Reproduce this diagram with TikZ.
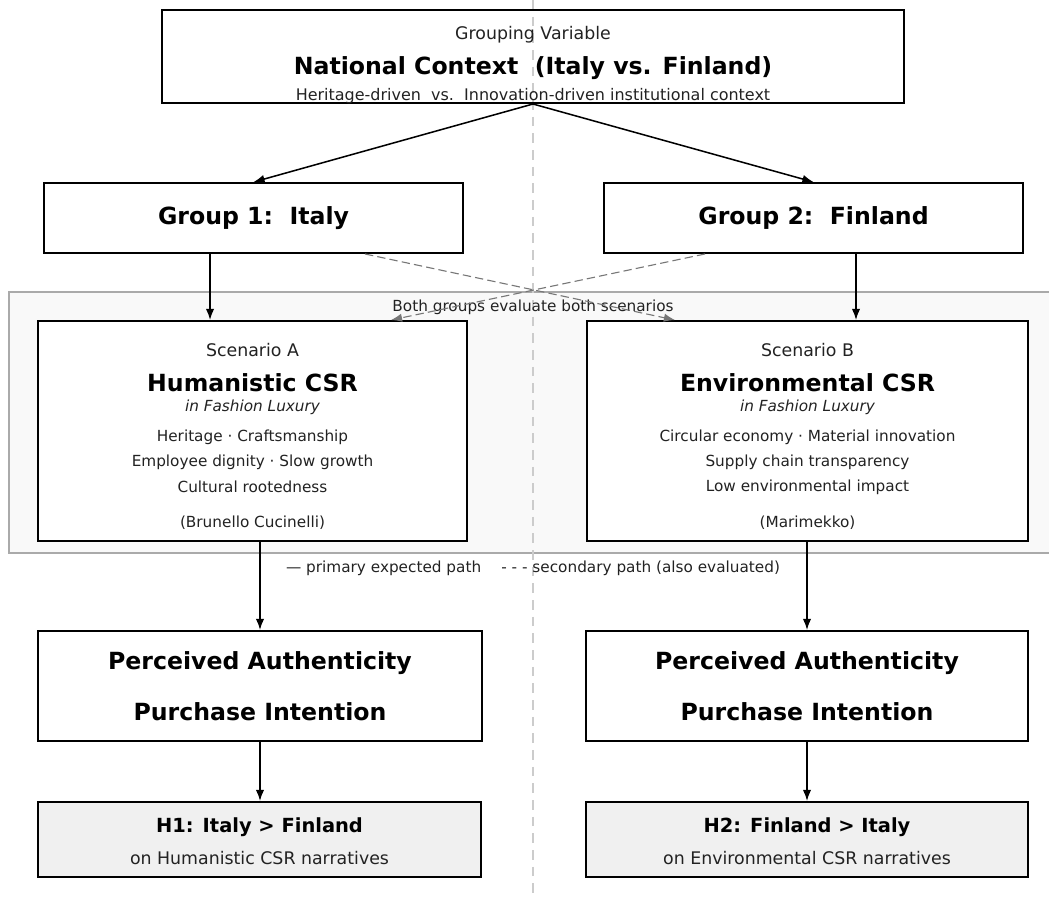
\documentclass[tikz,border=0pt]{standalone}
\usepackage{fontspec}
\setmainfont{DejaVu Sans}
\usepackage{tikz}
\usetikzlibrary{arrows.meta}
\definecolor{panelfill}{HTML}{F9F9F9}
\definecolor{panelline}{HTML}{AAAAAA}
\definecolor{hypfill}{HTML}{F0F0F0}
\definecolor{midline}{HTML}{CCCCCC}
\definecolor{dashgray}{HTML}{777777}
\definecolor{txtgray}{HTML}{222222}
\newcommand{\fsz}[1]{\fontsize{#1}{#1}\selectfont}

\begin{document}
\begin{tikzpicture}[x=0.72pt, y=-0.72pt,
            box/.style={draw, line width=1.4pt, inner sep=0pt},
            txt/.style={inner sep=0pt, text=txtgray, align=center},
            ttl/.style={inner sep=0pt, text=black, font=\fsz{17}\bfseries},
            arr/.style={line width=1.1pt, -{Latex[length=8pt, width=6pt]}},
            darr/.style={line width=0.8pt, dashgray, dash pattern=on 6pt off 3pt, -{Latex[length=8pt, width=6pt]}}]
            \useasboundingbox (0,0) rectangle (1049,898);

            % shared panel and centre guide
            \draw[panelline, fill=panelfill, line width=0.8pt] (9,292) rectangle (1055,553);
            \draw[midline, line width=0.8pt, dash pattern=on 7pt off 5pt] (533,0) -- (533,898);

            % boxes
            \node[box, minimum width=534.2pt, minimum height=67pt] at (533,56.5) (ctx) {};
            \node[box, minimum width=301.7pt, minimum height=50.4pt, font=\fsz{17}\bfseries] at (253.5,218) (grp1) {Group 1:\ \ Italy};
            \node[box, minimum width=301.7pt, minimum height=50.4pt, font=\fsz{17}\bfseries] at (813.5,218) (grp2) {Group 2:\ \ Finland};
            \node[box, fill=white, minimum width=308.9pt, minimum height=158.4pt] at (252.5,431) (scnA) {};
            \node[box, fill=white, minimum width=317.5pt, minimum height=158.4pt] at (807.5,431) (scnB) {};
            \node[box, fill=white, minimum width=319.7pt, minimum height=79.2pt] at (260,686) (perA) {};
            \node[box, fill=white, minimum width=318.2pt, minimum height=79.2pt] at (807,686) (perB) {};
            \node[box, fill=hypfill, minimum width=319pt, minimum height=54pt] at (259.5,839.5) (hypA) {};
            \node[box, fill=hypfill, minimum width=318.2pt, minimum height=54pt] at (807,839.5) (hypB) {};

            % texts
            \node[txt, font=\fsz{12.5}] at (533,35) (ctxsub) {Grouping Variable};
            \node[ttl] at (533,68) (ctxttl) {National Context\ \ (Italy vs. Finland)};
            \node[txt, font=\fsz{11.5}] at (533,96) (ctxnote) {Heritage-driven\ \ vs.\ \ Innovation-driven institutional context};

            \node[txt, font=\fsz{12.5}] at (252.5,350) (scnAsub) {Scenario A};
            \node[ttl] at (252.5,383) (scnAttl) {Humanistic CSR};
            \node[txt, font=\fsz{11}\itshape] at (252.5,407) (scnAin) {in Fashion Luxury};
            \node[txt, font=\fsz{11}] at (252.5,437) (scnA1) {Heritage · Craftsmanship};
            \node[txt, font=\fsz{11}] at (252.5,462) (scnA2) {Employee dignity · Slow growth};
            \node[txt, font=\fsz{11}] at (252.5,487) (scnA3) {Cultural rootedness};
            \node[txt, font=\fsz{11}] at (252.5,523) (scnAex) {(Brunello Cucinelli)};

            \node[txt, font=\fsz{12.5}] at (807.5,350) (scnBsub) {Scenario B};
            \node[ttl] at (807.5,383) (scnBttl) {Environmental CSR};
            \node[txt, font=\fsz{11}\itshape] at (807.5,407) (scnBin) {in Fashion Luxury};
            \node[txt, font=\fsz{11}] at (807.5,437) (scnB1) {Circular economy · Material innovation};
            \node[txt, font=\fsz{11}] at (807.5,462) (scnB2) {Supply chain transparency};
            \node[txt, font=\fsz{11}] at (807.5,487) (scnB3) {Low environmental impact};
            \node[txt, font=\fsz{11}] at (807.5,523) (scnBex) {(Marimekko)};

            \node[ttl] at (260,663) (perA1) {Perceived Authenticity};
            \node[ttl] at (260,712) (perA2) {Purchase Intention};
            \node[ttl] at (807,663) (perB1) {Perceived Authenticity};
            \node[ttl] at (807,712) (perB2) {Purchase Intention};

            \node[txt, text=black, font=\fsz{14}\bfseries] at (259.5,827) (hypAttl) {H1: Italy > Finland};
            \node[txt, font=\fsz{12.5}] at (259.5,858) (hypAsub) {on Humanistic CSR narratives};
            \node[txt, text=black, font=\fsz{14}\bfseries] at (807,827) (hypBttl) {H2: Finland > Italy};
            \node[txt, font=\fsz{12.5}] at (807,858) (hypBsub) {on Environmental CSR narratives};

            \node[txt, font=\fsz{11}] at (533,307) (both) {Both groups evaluate both scenarios};
            \node[txt, font=\fsz{11}] at (533,568) (legend) {— primary expected path\quad\ - - - secondary path (also evaluated)};

            % connectors
            \draw [arr] (ctx.south) -- (grp1.north);
            \draw [arr] (ctx.south) -- (grp2.north);
            \draw [arr] ([xshift=-31.3pt]grp1.south) -- ([xshift=-31.3pt]grp1.south |- scnA.north);
            \draw [arr] ([xshift=30.6pt]grp2.south) -- ([xshift=30.6pt]grp2.south |- scnB.north);
            \draw [darr] ([xshift=80.3pt]grp1.south) -- ([xshift=-95.4pt]scnB.north);
            \draw [darr] ([xshift=-78.1pt]grp2.south) -- ([xshift=99.7pt]scnA.north);
            \draw [arr] (perA.north |- scnA.south) -- (perA.north);
            \draw [arr] (perB.north |- scnB.south) -- (perB.north);
            \draw [arr] (perA.south) -- (perA.south |- hypA.north);
            \draw [arr] (perB.south) -- (perB.south |- hypB.north);
        \end{tikzpicture}
\end{document}
